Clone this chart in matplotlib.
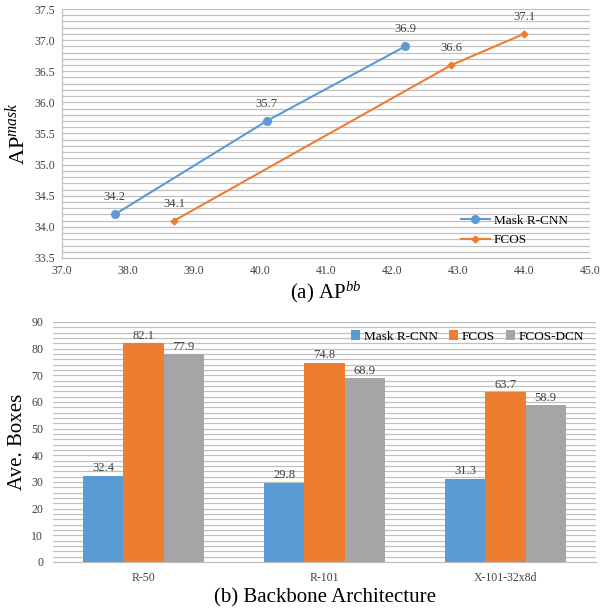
import matplotlib
matplotlib.use("Agg")
import matplotlib.pyplot as plt
import numpy as np

plt.rcParams['font.family'] = ['Liberation Serif', 'DejaVu Serif']
plt.rcParams['mathtext.fontset'] = 'custom'
plt.rcParams['mathtext.rm'] = 'Liberation Serif'
plt.rcParams['mathtext.it'] = 'Liberation Serif:italic'

# ---- data (a) ----
mask_ap_bb = [37.8, 40.1, 42.2]
mask_ap_mask = [34.2, 35.7, 36.9]
fcos_ap_bb = [38.7, 42.9, 44.0]
fcos_ap_mask = [34.1, 36.6, 37.1]
line_series = ["Mask R-CNN", "FCOS"]

# ---- data (b) ----
backbones = ["R-50", "R-101", "X-101-32x8d"]
bar_series = ["Mask R-CNN", "FCOS", "FCOS-DCN"]
boxes_mask = [32.4, 29.8, 31.3]
boxes_fcos = [82.1, 74.8, 63.7]
boxes_dcn = [77.9, 68.9, 58.9]

BLUE = "#5B9BD5"
ORANGE = "#ED7D31"
GRAY = "#A5A5A5"
GRID = "#C0C0C0"
TXT = "#404040"

fig = plt.figure(figsize=(6.04, 6.09), dpi=100)

# ---------- top: line chart ----------
ax1 = fig.add_axes([62/604, 1-258/609, 528/604, 249/609])
ax1.set_xlim(37.0, 45.0)
ax1.set_ylim(33.5, 37.5)
for y in np.arange(33.6, 37.51, 0.1):
    ax1.axhline(y, color=GRID, lw=0.9, zorder=0)
ax1.plot(mask_ap_bb, mask_ap_mask, color=BLUE, lw=1.5, marker='o', ms=5.5,
         label=line_series[0], zorder=3)
ax1.plot(fcos_ap_bb, fcos_ap_mask, color=ORANGE, lw=1.5, marker='D', ms=3.5,
         label=line_series[1], zorder=3)
for x, y in zip(mask_ap_bb, mask_ap_mask):
    ax1.annotate(f"{y:.1f}", (x, y), xytext=(0, 8), textcoords='offset points',
                 ha='center', va='bottom', fontsize=9, color=TXT)
for x, y in zip(fcos_ap_bb, fcos_ap_mask):
    ax1.annotate(f"{y:.1f}", (x, y), xytext=(0, 8), textcoords='offset points',
                 ha='center', va='bottom', fontsize=9, color=TXT)
ax1.set_xticks(np.arange(37, 45.01, 1.0))
ax1.set_xticklabels([f"{v:.1f}" for v in np.arange(37, 45.01, 1.0)])
ax1.set_yticks(np.arange(33.5, 37.51, 0.5))
ax1.set_yticklabels([f"{v:.1f}" for v in np.arange(33.5, 37.51, 0.5)])
ax1.tick_params(length=0, labelsize=8.5, colors=TXT, pad=5)
for s in ['top', 'right']:
    ax1.spines[s].set_visible(False)
for s in ['left', 'bottom']:
    ax1.spines[s].set_color(GRID)
    ax1.spines[s].set_linewidth(0.9)
ax1.set_ylabel(r"AP$^{\mathit{mask}}$", fontsize=16, labelpad=3)
ax1.set_xlabel(r"(a) AP$^{\mathit{bb}}$", fontsize=15, labelpad=2)
ax1.legend(loc='lower right', bbox_to_anchor=(0.98, 0.0), frameon=False,
           fontsize=9.5, handlelength=2.2, labelspacing=0.55, handletextpad=0.3)

# ---------- bottom: bar chart ----------
ax2 = fig.add_axes([53/604, 1-562/609, 543/604, 240/609])
x = np.arange(len(backbones))
w = 0.222
ax2.bar(x - w, boxes_mask, w, color=BLUE, label=bar_series[0], zorder=3)
ax2.bar(x, boxes_fcos, w, color=ORANGE, label=bar_series[1], zorder=3)
ax2.bar(x + w, boxes_dcn, w, color=GRAY, label=bar_series[2], zorder=3)
for off, vals in [(-w, boxes_mask), (0, boxes_fcos), (w, boxes_dcn)]:
    for xi, v in zip(x, vals):
        ax2.annotate(f"{v:.1f}", (xi + off, v), xytext=(0, 1), textcoords='offset points',
                     ha='center', va='bottom', fontsize=9, color=TXT)
ax2.set_xlim(-0.5, 2.5)
ax2.set_ylim(0, 90)
for y in np.arange(2, 90.1, 2):
    ax2.axhline(y, color=GRID, lw=0.9, zorder=0)
ax2.set_yticks(np.arange(0, 91, 10))
ax2.set_xticks(x)
ax2.set_xticklabels(backbones)
ax2.tick_params(length=0, labelsize=8.5, colors=TXT, pad=7)
for s in ['top', 'right', 'left']:
    ax2.spines[s].set_visible(False)
ax2.spines['bottom'].set_color(GRID)
ax2.spines['bottom'].set_linewidth(0.9)
ax2.set_ylabel("Ave. Boxes", fontsize=15, labelpad=3)
ax2.set_xlabel("(b) Backbone Architecture", fontsize=15, labelpad=3)
ax2.legend(loc='upper right', bbox_to_anchor=(1.0, 1.015), frameon=False, ncol=3,
           fontsize=9.5, handlelength=0.7, handleheight=0.7, handletextpad=0.3,
           columnspacing=0.8)

fig.savefig("out.png", dpi=100)
